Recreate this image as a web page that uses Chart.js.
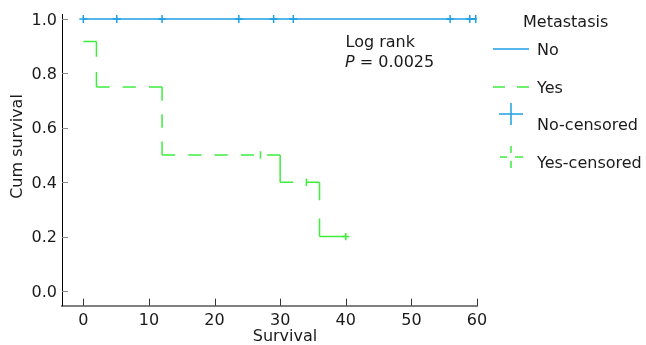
<!DOCTYPE html>
<html><head><meta charset="utf-8">
<script src="https://cdn.jsdelivr.net/npm/chart.js@4.4.1/dist/chart.umd.min.js"></script>
<style>html,body{margin:0;padding:0;background:#fff;}canvas{display:block;}</style>
</head><body>
<canvas id="c" width="646" height="345"></canvas>
<script>
// ---- data ----
const noTimes = [0, 59.8];
const noSurvival = [1, 1];
const noCensoredTimes = [0, 5.1, 12, 23.7, 29, 32, 55.9, 58.9, 59.8];
const noCensoredSurvival = [1, 1, 1, 1, 1, 1, 1, 1, 1];
const yesTimes = [0, 2, 12, 30, 36, 40];
const yesSurvival = [0.917, 0.75, 0.5, 0.4, 0.2, 0.2];
const yesCensoredTimes = [27, 34, 40];
const yesCensoredSurvival = [0.5, 0.4, 0.2];
const xTickValues = [0, 10, 20, 30, 40, 50, 60];
const yTickValues = [0, 0.2, 0.4, 0.6, 0.8, 1.0];
const legendTitle = 'Metastasis';
const legendLabels = ['No', 'Yes', 'No-censored', 'Yes-censored'];
const xTitle = 'Survival';
const yTitle = 'Cum survival';
const logRankLabel = 'Log rank';
const pLabel = 'P';
const pValueText = ' = 0.0025';

const BLUE = '#1d9fe2';
const GREEN = '#3eec3e';
const FONT = '"DejaVu Sans", Verdana, sans-serif';
const TEXT = '#1a1a1a';

const pts = (xs, ys) => xs.map((x, i) => ({x: x, y: ys[i]}));
// Kaplan-Meier step path: horizontal at current survival, then vertical drop
function stepPath(times, surv) {
  const out = [];
  for (let i = 0; i < times.length; i++) {
    if (i > 0 && surv[i - 1] !== surv[i]) out.push({x: times[i], y: surv[i - 1]});
    out.push({x: times[i], y: surv[i]});
  }
  return out;
}
// dash restarts on every straight run, split into an odd number of equal parts
function runDash(ctx) {
  const L = Math.hypot(ctx.p1.x - ctx.p0.x, ctx.p1.y - ctx.p0.y);
  let n = Math.floor(L / 13);
  if (n % 2 === 0) n -= 1;
  n = Math.max(1, n);
  const part = L / n + ctx.p0DataIndex * 1e-3;
  return [part, part];
}
const lastYesTime = yesTimes[yesTimes.length - 1];

const extras = {
  id: 'extras',
  afterDraw(chart) {
    const ctx = chart.ctx;
    const xs = chart.scales.x, ys = chart.scales.y;
    const a = chart.chartArea;
    ctx.save();
    ctx.lineWidth = 1;
    ctx.strokeStyle = '#8a8a8a';
    ys.ticks.forEach(t => {
      const y = Math.round(ys.getPixelForValue(t.value)) + 0.5;
      ctx.beginPath(); ctx.moveTo(a.left, y); ctx.lineTo(a.left + 6, y); ctx.stroke();
    });
    ctx.strokeStyle = '#333';
    xs.ticks.forEach(t => {
      const x = Math.round(xs.getPixelForValue(t.value)) + 0.5;
      ctx.beginPath(); ctx.moveTo(x, a.bottom); ctx.lineTo(x, a.bottom - 7); ctx.stroke();
    });
    ctx.fillStyle = TEXT;
    ctx.font = '16px ' + FONT;
    ctx.textBaseline = 'alphabetic';
    ctx.textAlign = 'center';
    ctx.fillText(xTitle, 285, 341);
    ctx.save();
    ctx.translate(22, 146.5);
    ctx.rotate(-Math.PI / 2);
    ctx.fillText(yTitle, 0, 0);
    ctx.restore();
    ctx.textAlign = 'left';
    ctx.fillText(logRankLabel, 345.5, 46.5);
    ctx.font = 'italic 16px ' + FONT;
    ctx.fillText(pLabel, 345, 66.5);
    const pw = ctx.measureText(pLabel).width;
    ctx.font = '16px ' + FONT;
    ctx.fillText(pValueText, 345 + pw, 66.5);
    ctx.fillText(legendTitle, 523, 27);
    const tx = 537;
    const baselines = [55, 93, 129.5, 167.5];
    legendLabels.forEach((l, i) => ctx.fillText(l, tx, baselines[i]));
    ctx.lineWidth = 1.5;
    ctx.strokeStyle = BLUE;
    ctx.beginPath(); ctx.moveTo(493, 49); ctx.lineTo(529, 49); ctx.stroke();
    ctx.strokeStyle = GREEN;
    ctx.setLineDash([12, 12]);
    ctx.beginPath(); ctx.moveTo(493, 87); ctx.lineTo(529, 87); ctx.stroke();
    ctx.setLineDash([]);
    ctx.strokeStyle = BLUE;
    ctx.beginPath();
    ctx.moveTo(499, 114); ctx.lineTo(523, 114);
    ctx.moveTo(511, 103); ctx.lineTo(511, 125);
    ctx.stroke();
    ctx.strokeStyle = GREEN;
    ctx.beginPath();
    ctx.moveTo(500, 157); ctx.lineTo(507, 157);
    ctx.moveTo(515, 157); ctx.lineTo(523, 157);
    ctx.moveTo(511, 146); ctx.lineTo(511, 153);
    ctx.moveTo(511, 161); ctx.lineTo(511, 168);
    ctx.stroke();
    ctx.restore();
  }
};

new Chart(document.getElementById('c'), {
  type: 'scatter',
  data: {
    datasets: [
      { label: 'No', data: pts(noTimes, noSurvival), showLine: true, stepped: 'before',
        borderColor: BLUE, borderWidth: 1.5, pointRadius: 0, fill: false },
      { label: 'Yes', data: stepPath(yesTimes, yesSurvival), showLine: true,
        borderColor: GREEN, borderWidth: 1.5, pointRadius: 0, fill: false,
        borderDash: [13, 13],
        segment: { borderDash: runDash } },
      { label: 'No-censored', data: pts(noCensoredTimes, noCensoredSurvival), showLine: false,
        pointStyle: 'cross', pointRadius: 4, borderColor: BLUE, pointBorderWidth: 1.5, backgroundColor: BLUE },
      { label: 'Yes-censored', data: pts(yesCensoredTimes, yesCensoredSurvival), showLine: false,
        pointStyle: c => (c.raw && c.raw.x >= lastYesTime ? 'cross' : 'line'),
        rotation: c => (c.raw && c.raw.x >= lastYesTime ? 0 : 90),
        pointRadius: 3.7, borderColor: GREEN, pointBorderWidth: 1.5, backgroundColor: GREEN }
    ]
  },
  options: {
    responsive: false,
    animation: false,
    devicePixelRatio: 1,
    layout: { padding: { left: 0, right: 169, top: 14.7, bottom: 0 } },
    plugins: { legend: { display: false }, tooltip: { enabled: false } },
    scales: {
      x: {
        type: 'linear', min: -3.25, max: 60,
        afterBuildTicks: s => { s.ticks = xTickValues.map(v => ({value: v})); },
        afterFit: s => { s.height = 39.3; },
        grid: { display: false, drawTicks: false },
        border: { display: true, color: '#808080', width: 2 },
        ticks: { padding: 6, color: TEXT, font: { family: FONT, size: 16 }, maxRotation: 0,
                 callback: v => String(v) }
      },
      y: {
        type: 'linear', min: -0.054, max: 1.016,
        afterBuildTicks: s => { s.ticks = yTickValues.map(v => ({value: v})); },
        afterFit: s => { s.width = 62; },
        grid: { display: false, drawTicks: false },
        border: { display: true, color: '#000', width: 1 },
        ticks: { padding: 5, labelOffset: 1.5, color: TEXT, font: { family: FONT, size: 16 },
                 callback: v => Number(v).toFixed(1) }
      }
    }
  },
  plugins: [extras]
});
</script>
</body></html>
